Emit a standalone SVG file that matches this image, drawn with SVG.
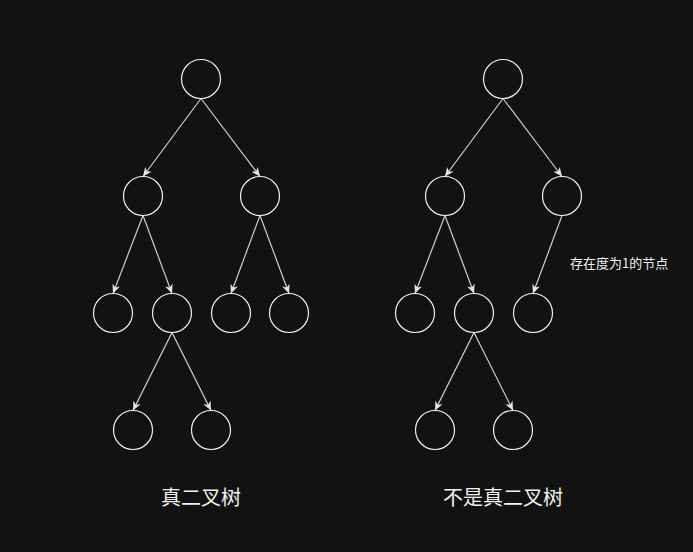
<svg xmlns="http://www.w3.org/2000/svg" width="693" height="552" viewBox="0 0 693 552">
<style>
.n{fill:none;stroke:#f0f0f0;stroke-width:1.2}
.e{stroke:#cfcfcf;stroke-width:1.2;fill:none;marker-end:url(#a)}
.t{font-family:"Microsoft YaHei","Noto Sans CJK SC",sans-serif;fill:#f0f0f0}
</style>
<defs>
<marker id="a" markerUnits="userSpaceOnUse" markerWidth="11" markerHeight="9" refX="10" refY="4.5" orient="auto">
<path d="M1,0.5 L10,4.5 L1,8.5 L3.5,4.5 Z" fill="#e6e6e6"/>
</marker>
</defs>
<rect width="693" height="552" fill="#121212"/>
<g id="connectors">
<line class="e" x1="201" y1="98.5" x2="143" y2="176.5"/>
<line class="e" x1="201" y1="98.5" x2="260" y2="176.5"/>
<line class="e" x1="143" y1="215.5" x2="113" y2="293.5"/>
<line class="e" x1="143" y1="215.5" x2="172" y2="293.5"/>
<line class="e" x1="260" y1="215.5" x2="231" y2="293.5"/>
<line class="e" x1="260" y1="215.5" x2="289" y2="293.5"/>
<line class="e" x1="172" y1="332.5" x2="133" y2="410.5"/>
<line class="e" x1="172" y1="332.5" x2="211" y2="410.5"/>
<line class="e" x1="503" y1="98.5" x2="445" y2="176.5"/>
<line class="e" x1="503" y1="98.5" x2="562" y2="176.5"/>
<line class="e" x1="445" y1="215.5" x2="415" y2="293.5"/>
<line class="e" x1="445" y1="215.5" x2="474" y2="293.5"/>
<line class="e" x1="562" y1="215.5" x2="533" y2="293.5"/>
<line class="e" x1="474" y1="332.5" x2="435" y2="410.5"/>
<line class="e" x1="474" y1="332.5" x2="513" y2="410.5"/>
</g>
<g id="l1"><circle class="n" cx="201" cy="79" r="19.5"/></g>
<g id="l2"><circle class="n" cx="143" cy="196" r="19.5"/></g>
<g id="l3"><circle class="n" cx="260" cy="196" r="19.5"/></g>
<g id="l4"><circle class="n" cx="113" cy="313" r="19.5"/></g>
<g id="l5"><circle class="n" cx="172" cy="313" r="19.5"/></g>
<g id="l6"><circle class="n" cx="231" cy="313" r="19.5"/></g>
<g id="l7"><circle class="n" cx="289" cy="313" r="19.5"/></g>
<g id="l8"><circle class="n" cx="133" cy="430" r="19.5"/></g>
<g id="l9"><circle class="n" cx="211" cy="430" r="19.5"/></g>
<g id="r1"><circle class="n" cx="503" cy="79" r="19.5"/></g>
<g id="r2"><circle class="n" cx="445" cy="196" r="19.5"/></g>
<g id="r3"><circle class="n" cx="562" cy="196" r="19.5"/></g>
<g id="r4"><circle class="n" cx="415" cy="313" r="19.5"/></g>
<g id="r5"><circle class="n" cx="474" cy="313" r="19.5"/></g>
<g id="r6"><circle class="n" cx="533" cy="313" r="19.5"/></g>
<g id="r7"><circle class="n" cx="435" cy="430" r="19.5"/></g>
<g id="r8"><circle class="n" cx="513" cy="430" r="19.5"/></g>
<g id="label-note"><text class="t" x="570" y="268" font-size="13">存在度为1的节点</text></g>
<g id="label-left"><text class="t" x="201" y="505" font-size="20" text-anchor="middle">真二叉树</text></g>
<g id="label-right"><text class="t" x="503" y="505" font-size="20" text-anchor="middle">不是真二叉树</text></g>
</svg>
